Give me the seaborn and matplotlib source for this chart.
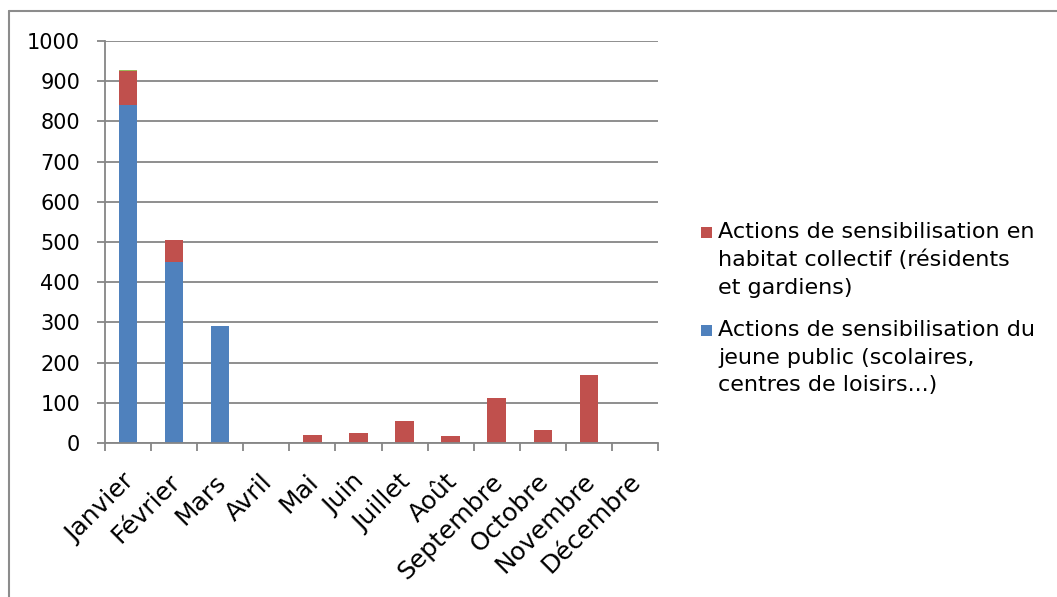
import numpy as np
import pandas as pd
import seaborn as sns
from matplotlib import pyplot as plt
from matplotlib import transforms
from matplotlib.lines import Line2D
from matplotlib.patches import Rectangle

months = ['Janvier', 'Février', 'Mars', 'Avril', 'Mai', 'Juin', 'Juillet',
          'Août', 'Septembre', 'Octobre', 'Novembre', 'Décembre']
jeune_public = [840, 450, 290, 0, 0, 0, 0, 0, 0, 0, 0, 0]
habitat_collectif = [86, 55, 0, 0, 19, 25, 54, 17, 111, 32, 169, 0]
autre = [3, 0, 0, 0, 0, 0, 0, 0, 0, 0, 0, 0]

label_red = "Actions de sensibilisation en\nhabitat collectif (résidents\net gardiens)"
label_blue = "Actions de sensibilisation du\njeune public (scolaires,\ncentres de loisirs...)"

blue = '#4f81bd'
red = '#c0504d'
green = '#9bbb59'
grid_col = '#868686'

df = pd.DataFrame({'mois': months, 'jeune': jeune_public,
                   'habitat': habitat_collectif, 'autre': autre})
df['bottom2'] = df['jeune'] + df['habitat']

sns.set_style('white')
plt.rcParams['font.family'] = ['DejaVu Sans']
plt.rcParams['text.color'] = 'black'
plt.rcParams['xtick.color'] = 'black'
plt.rcParams['ytick.color'] = 'black'

W, H = 1057, 597
fig = plt.figure(figsize=(W / 100, H / 100), dpi=100)
ax = fig.add_axes([105 / W, 1 - 443 / H, 553 / W, 402 / H])

sns.barplot(data=df, x='mois', y='jeune', color=blue, width=0.4,
            saturation=1, linewidth=0, ax=ax)
sns.barplot(data=df, x='mois', y='habitat', bottom=df['jeune'], color=red,
            width=0.4, saturation=1, linewidth=0, ax=ax)
sns.barplot(data=df, x='mois', y='autre', bottom=df['bottom2'], color=green,
            width=0.4, saturation=1, linewidth=0, ax=ax)

ax.set_xlim(-0.5, 11.5)
ax.set_ylim(0, 1000)
ax.set_yticks(np.arange(0, 1001, 100))
ax.set_xlabel('')
ax.set_ylabel('')

ax.yaxis.grid(True, color=grid_col, linewidth=1.3)
ax.set_axisbelow(True)
for s in ['top', 'right']:
    ax.spines[s].set_visible(False)
for s in ['left', 'bottom']:
    ax.spines[s].set_color(grid_col)
    ax.spines[s].set_linewidth(1.3)

ax.tick_params(axis='y', which='major', direction='out', length=6, width=1.3,
               color=grid_col, labelcolor='black', labelsize=15, pad=12, left=True)
ax.set_xticks(np.arange(-0.5, 12, 1), minor=True)
ax.tick_params(axis='x', which='minor', direction='out', length=6, width=1.3,
               color=grid_col, bottom=True)
ax.tick_params(axis='x', which='major', length=0, labelcolor='black',
               labelsize=18, pad=19)
shift = transforms.ScaledTranslation(-6 / 100, 0, fig.dpi_scale_trans)
for t in ax.get_xticklabels():
    t.set_rotation(45)
    t.set_ha('right')
    t.set_rotation_mode('anchor')
    t.set_transform(t.get_transform() + shift)

# legend, squares aligned with the first line of each label
for lab, col, ytop in [(label_red, red, 222), (label_blue, blue, 320)]:
    fig.text(718 / W, 1 - ytop / H, lab, fontsize=16, va='top', ha='left',
             linespacing=1.48)
    fig.add_artist(Rectangle((701 / W, 1 - (ytop + 16) / H), 11 / W, 11 / H,
                             facecolor=col, edgecolor='none',
                             transform=fig.transFigure))

fig.add_artist(Line2D([9 / W, 9 / W], [0, 1 - 11 / H], color='#8c8c8c',
                      linewidth=1.5, transform=fig.transFigure))
fig.add_artist(Line2D([9 / W, 1], [1 - 11 / H, 1 - 11 / H], color='#8c8c8c',
                      linewidth=1.5, transform=fig.transFigure))

fig.savefig('out.png', dpi=100)
